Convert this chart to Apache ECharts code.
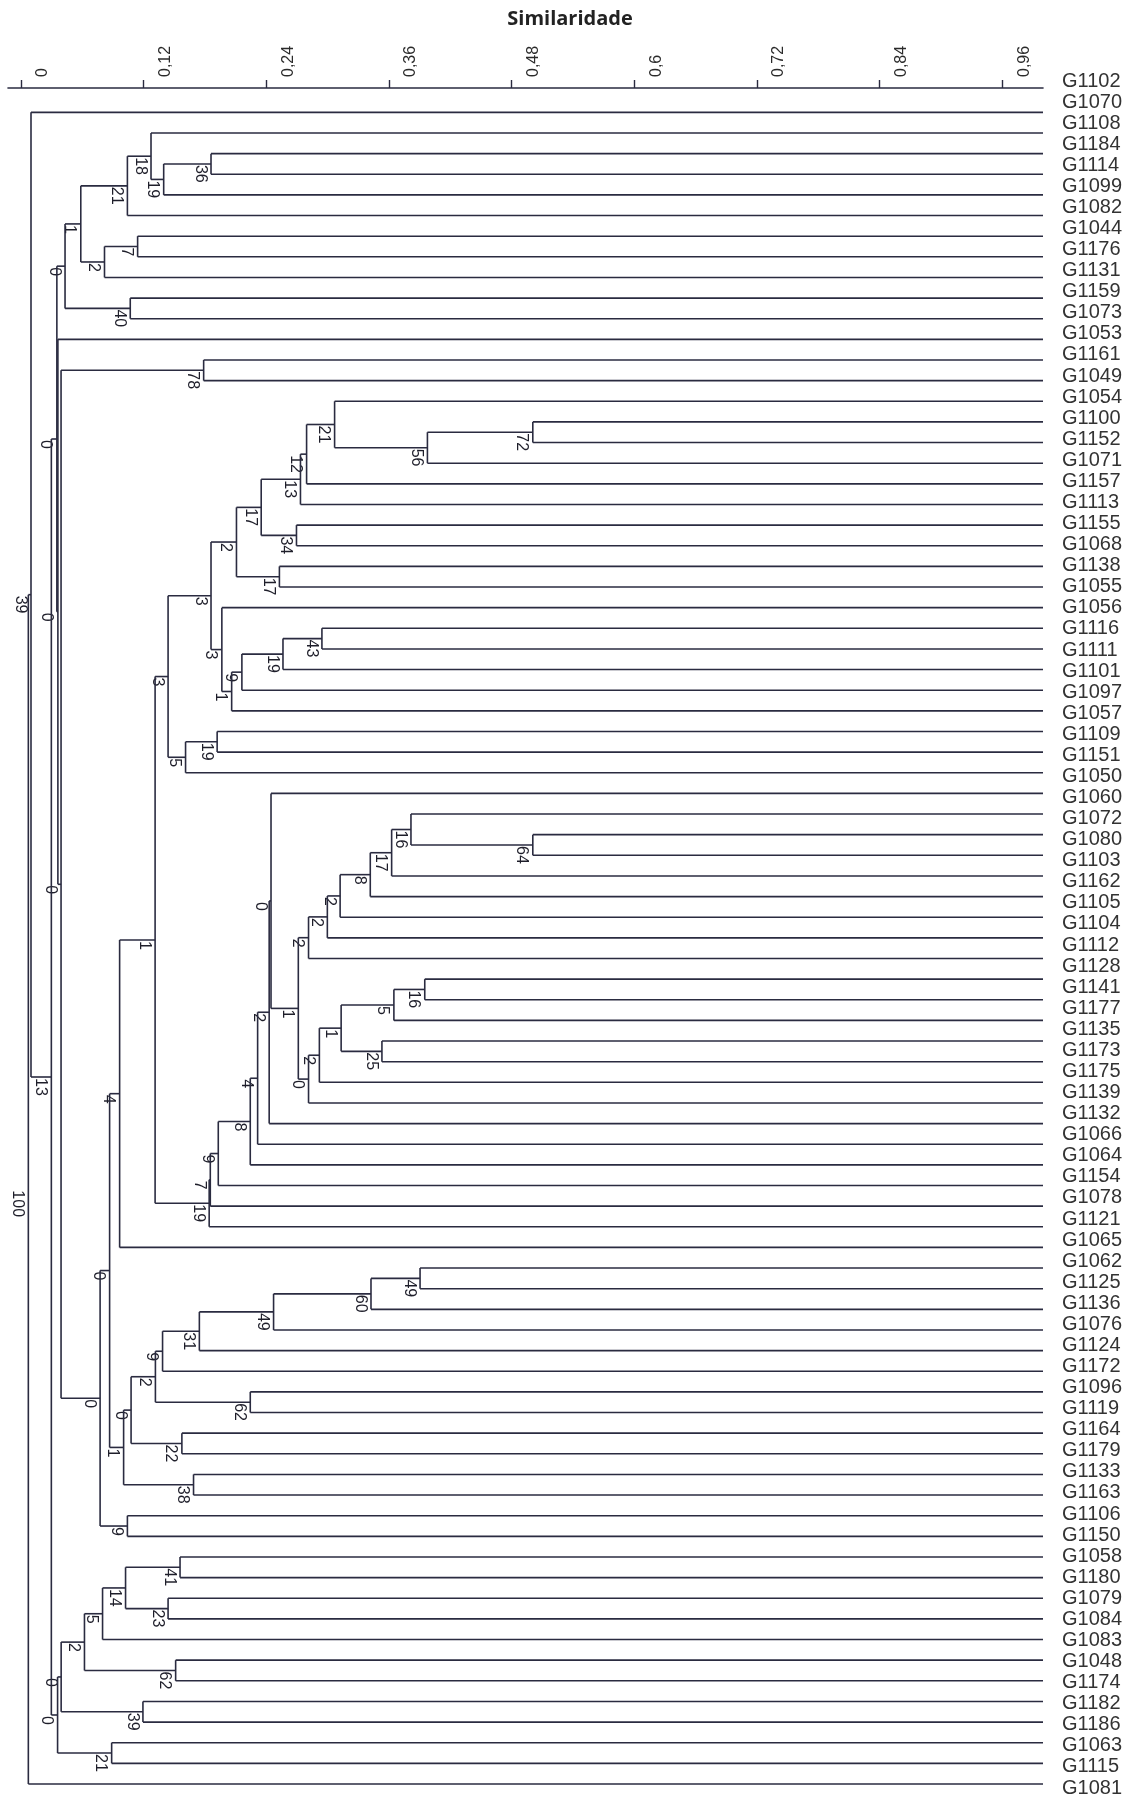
<!DOCTYPE html>
<html>
<head>
<meta charset="utf-8">
<title>Similaridade</title>
<script src="https://cdn.jsdelivr.net/npm/echarts@6.0.0/dist/echarts.min.js"></script>
<style>
  html, body { margin: 0; padding: 0; background: #fff; }
  #chart { width: 1140px; height: 1794px; }
</style>
</head>
<body>
<div id="chart"></div>
<script>
// Accession names listed down the right-hand side, top to bottom
const accessions = ['G1102','G1070','G1108','G1184','G1114','G1099','G1082','G1044','G1176','G1131',
  'G1159','G1073','G1053','G1161','G1049','G1054','G1100','G1152','G1071','G1157',
  'G1113','G1155','G1068','G1138','G1055','G1056','G1116','G1111','G1101','G1097',
  'G1057','G1109','G1151','G1050','G1060','G1072','G1080','G1103','G1162','G1105',
  'G1104','G1112','G1128','G1141','G1177','G1135','G1173','G1175','G1139','G1132',
  'G1066','G1064','G1154','G1078','G1121','G1065','G1062','G1125','G1136','G1076',
  'G1124','G1172','G1096','G1119','G1164','G1179','G1133','G1163','G1106','G1150',
  'G1058','G1180','G1079','G1084','G1083','G1048','G1174','G1182','G1186','G1063',
  'G1115','G1081'];

// Similarity scale ticks
const simTicks = [0, 0.12, 0.24, 0.36, 0.48, 0.6, 0.72, 0.84, 0.96];

// Merges: [id, child A, child B, similarity, bootstrap]
// numeric children are leaf rows (1 = top branch), strings refer to earlier merges
const upperClade = [
  ['u36', 3, 4, 0.1861, 36],
  ['u19', 'u36', 5, 0.1398, 19],
  ['u18', 2, 'u19', 0.1274, 18],
  ['u21', 'u18', 6, 0.1043, 21],
  ['u7', 7, 8, 0.1143, 7],
  ['u2', 'u7', 9, 0.0819, 2],
  ['u1', 'u21', 'u2', 0.0587, 1],
  ['u40', 10, 11, 0.1071, 40],
  ['u0', 'u1', 'u40', 0.0433, 0],
  ['u78', 13, 14, 0.1789, 78]
];

const middleCladeA = [
  ['a72', 16, 17, 0.5009, 72],
  ['a56', 'a72', 18, 0.3978, 56],
  ['a21', 15, 'a56', 0.3070, 21],
  ['a12', 'a21', 19, 0.2796, 12],
  ['a13', 'a12', 20, 0.2736, 13],
  ['a34', 21, 22, 0.2697, 34],
  ['a17', 'a13', 'a34', 0.2352, 17],
  ['a17b', 23, 24, 0.2530, 17],
  ['a2', 'a17', 'a17b', 0.2110, 2],
  ['a43', 26, 27, 0.2946, 43],
  ['a19', 'a43', 28, 0.2565, 19],
  ['a9', 'a19', 29, 0.2163, 9],
  ['a1', 'a9', 30, 0.2063, 1],
  ['a3', 25, 'a1', 0.1967, 3],
  ['a3b', 'a2', 'a3', 0.1861, 3],
  ['a19b', 31, 32, 0.1921, 19],
  ['a5', 'a19b', 33, 0.1612, 5],
  ['a3c', 'a3b', 'a5', 0.1441, 3]
];

const middleCladeB = [
  ['b64', 36, 37, 0.5009, 64],
  ['b16', 35, 'b64', 0.3817, 16],
  ['b17', 'b16', 38, 0.3628, 17],
  ['b8', 'b17', 39, 0.3419, 8],
  ['b2', 'b8', 40, 0.3124, 2],
  ['b2b', 'b2', 41, 0.2999, 2],
  ['b2c', 'b2b', 42, 0.2815, 2],
  ['b16b', 43, 44, 0.3952, 16],
  ['b5', 'b16b', 45, 0.3650, 5],
  ['b25', 46, 47, 0.3533, 25],
  ['b1', 'b5', 'b25', 0.3134, 1],
  ['b2d', 'b1', 48, 0.2921, 2],
  ['b0', 'b2d', 49, 0.2815, 0],
  ['b1b', 'b2c', 'b0', 0.2715, 1],
  ['b0b', 34, 'b1b', 0.2448, 0],
  ['b2e', 'b0b', 50, 0.2430, 2],
  ['b4', 'b2e', 51, 0.2317, 4],
  ['b8b', 'b4', 52, 0.2245, 8],
  ['b9', 'b8b', 53, 0.1932, 9],
  ['b7', 'b9', 54, 0.1854, 7],
  ['b19', 'b7', 55, 0.1843, 19],
  ['b1c', 'a3c', 'b19', 0.1314, 1],
  ['b4b', 'b1c', 56, 0.0967, 4]
];

const lowerClade = [
  ['c49', 57, 58, 0.3906, 49],
  ['c60', 'c49', 59, 0.3426, 60],
  ['c49b', 'c60', 60, 0.2473, 49],
  ['c31', 'c49b', 61, 0.1747, 31],
  ['c9', 'c31', 62, 0.1387, 9],
  ['c62', 63, 64, 0.2245, 62],
  ['c2', 'c9', 'c62', 0.1317, 2],
  ['c22', 65, 66, 0.1576, 22],
  ['c0', 'c2', 'c22', 0.1079, 0],
  ['c38', 67, 68, 0.1690, 38],
  ['c1', 'c0', 'c38', 0.1006, 1],
  ['c0b', 'b4b', 'c1', 0.0869, 0],
  ['c9b', 69, 70, 0.1043, 9],
  ['c0c', 'c0b', 'c9b', 0.0776, 0]
];

const backbone = [
  ['k0', 'u78', 'c0c', 0.0394, 0],
  ['k0b', 12, 'k0', 0.0363, 0],
  ['k0c', 'u0', 'k0b', 0.0353, 0]
];

const bottomClade = [
  ['d41', 71, 72, 0.1558, 41],
  ['d23', 73, 74, 0.1441, 23],
  ['d14', 'd41', 'd23', 0.1025, 14],
  ['d5', 'd14', 75, 0.0800, 5],
  ['d62', 76, 77, 0.1515, 62],
  ['d2', 'd5', 'd62', 0.0623, 2],
  ['d39', 78, 79, 0.1195, 39],
  ['d0', 'd2', 'd39', 0.0395, 0],
  ['d21', 80, 81, 0.0889, 21],
  ['d0b', 'd0', 'd21', 0.0360, 0]
];

const rootMerges = [
  ['r13', 'k0c', 'd0b', 0.0299, 13],
  ['r39', 1, 'r13', 0.0100, 39],
  ['r100', 'r39', 82, 0.0074, 100]
];

// Leaves run out to full similarity
const leafEnd = 1;

// Resolve every merge into a row: [sim, midRow, rowA, rowB, simA, simB, bootstrap]
const placed = {};
const nodeRows = [];
function where(ref) {
  return typeof ref === 'number' ? { s: leafEnd, y: ref } : placed[ref];
}
[upperClade, middleCladeA, middleCladeB, lowerClade, backbone, bottomClade, rootMerges]
  .forEach(group => group.forEach(([id, a, b, sim, boot]) => {
    const pa = where(a), pb = where(b);
    const mid = (pa.y + pb.y) / 2;
    placed[id] = { s: sim, y: mid };
    nodeRows.push([sim, mid, pa.y, pb.y, pa.s, pb.s, boot]);
  }));

const ink = '#2a2b40';
const lineStyle = { stroke: ink, lineWidth: 1.6, fill: null };

function drawNode(params, api) {
  const s = api.value(0), mid = api.value(1);
  const yA = api.value(2), yB = api.value(3);
  const sA = api.value(4), sB = api.value(5);
  const boot = api.value(6);
  const top = api.coord([s, yA]);
  const bot = api.coord([s, yB]);
  const endA = api.coord([sA, yA]);
  const endB = api.coord([sB, yB]);
  const m = api.coord([s, mid]);
  return {
    type: 'group',
    children: [
      { type: 'line', shape: { x1: top[0], y1: top[1], x2: bot[0], y2: bot[1] }, style: lineStyle },
      { type: 'line', shape: { x1: top[0], y1: top[1], x2: endA[0], y2: endA[1] }, style: lineStyle },
      { type: 'line', shape: { x1: bot[0], y1: bot[1], x2: endB[0], y2: endB[1] }, style: lineStyle },
      {
        type: 'text',
        x: m[0] - 3,
        y: m[1] + 1,
        rotation: -Math.PI / 2,
        style: {
          text: String(boot),
          align: 'left',
          verticalAlign: 'top',
          fontFamily: 'Liberation Sans, Arial, sans-serif',
          fontSize: 16,
          fill: '#1e1e2a'
        }
      }
    ]
  };
}

const chart = echarts.init(document.getElementById('chart'), null, { renderer: 'canvas' });
chart.setOption({
  animation: false,
  backgroundColor: '#ffffff',
  title: {
    text: 'Similaridade',
    left: 'center',
    top: 9,
    padding: 0,
    textStyle: { fontFamily: 'Open Sans', fontWeight: 'bold', fontSize: 20, color: '#222' }
  },
  grid: [
    { left: 8, right: 97, top: 88, bottom: 10, outerBoundsMode: 'none', containLabel: false },
    { left: 1000, right: 84, top: 81, bottom: 6, outerBoundsMode: 'none', containLabel: false }
  ],
  xAxis: [
    {
      gridIndex: 0,
      type: 'value',
      position: 'top',
      min: -0.0125,
      max: 1,
      splitLine: { show: false },
      axisLine: { show: true, onZero: false, lineStyle: { color: ink, width: 1.6 } },
      axisTick: { show: true, customValues: simTicks, length: 8, lineStyle: { color: ink, width: 1.4 } },
      axisLabel: {
        customValues: simTicks,
        rotate: -90,
        margin: 11,
        verticalAlign: 'top',
        lineHeight: 44,
        fontFamily: 'Liberation Sans, Arial, sans-serif',
        fontSize: 16,
        color: '#2a2a2a',
        formatter: v => String(v).replace('.', ',')
      }
    },
    { gridIndex: 1, type: 'value', show: false }
  ],
  yAxis: [
    { gridIndex: 0, type: 'value', inverse: true, min: -0.18, max: 82, show: false },
    {
      gridIndex: 1,
      type: 'category',
      data: accessions,
      inverse: true,
      boundaryGap: false,
      position: 'right',
      axisLine: { show: false },
      axisTick: { show: false },
      splitLine: { show: false },
      axisLabel: {
        interval: 0,
        margin: 6,
        fontFamily: 'Liberation Sans, Arial, sans-serif',
        fontSize: 20,
        color: '#333'
      }
    }
  ],
  series: [{
    type: 'custom',
    xAxisIndex: 0,
    yAxisIndex: 0,
    clip: false,
    silent: true,
    encode: { x: 0, y: 1 },
    data: nodeRows,
    renderItem: drawNode
  }]
});
</script>
</body>
</html>
